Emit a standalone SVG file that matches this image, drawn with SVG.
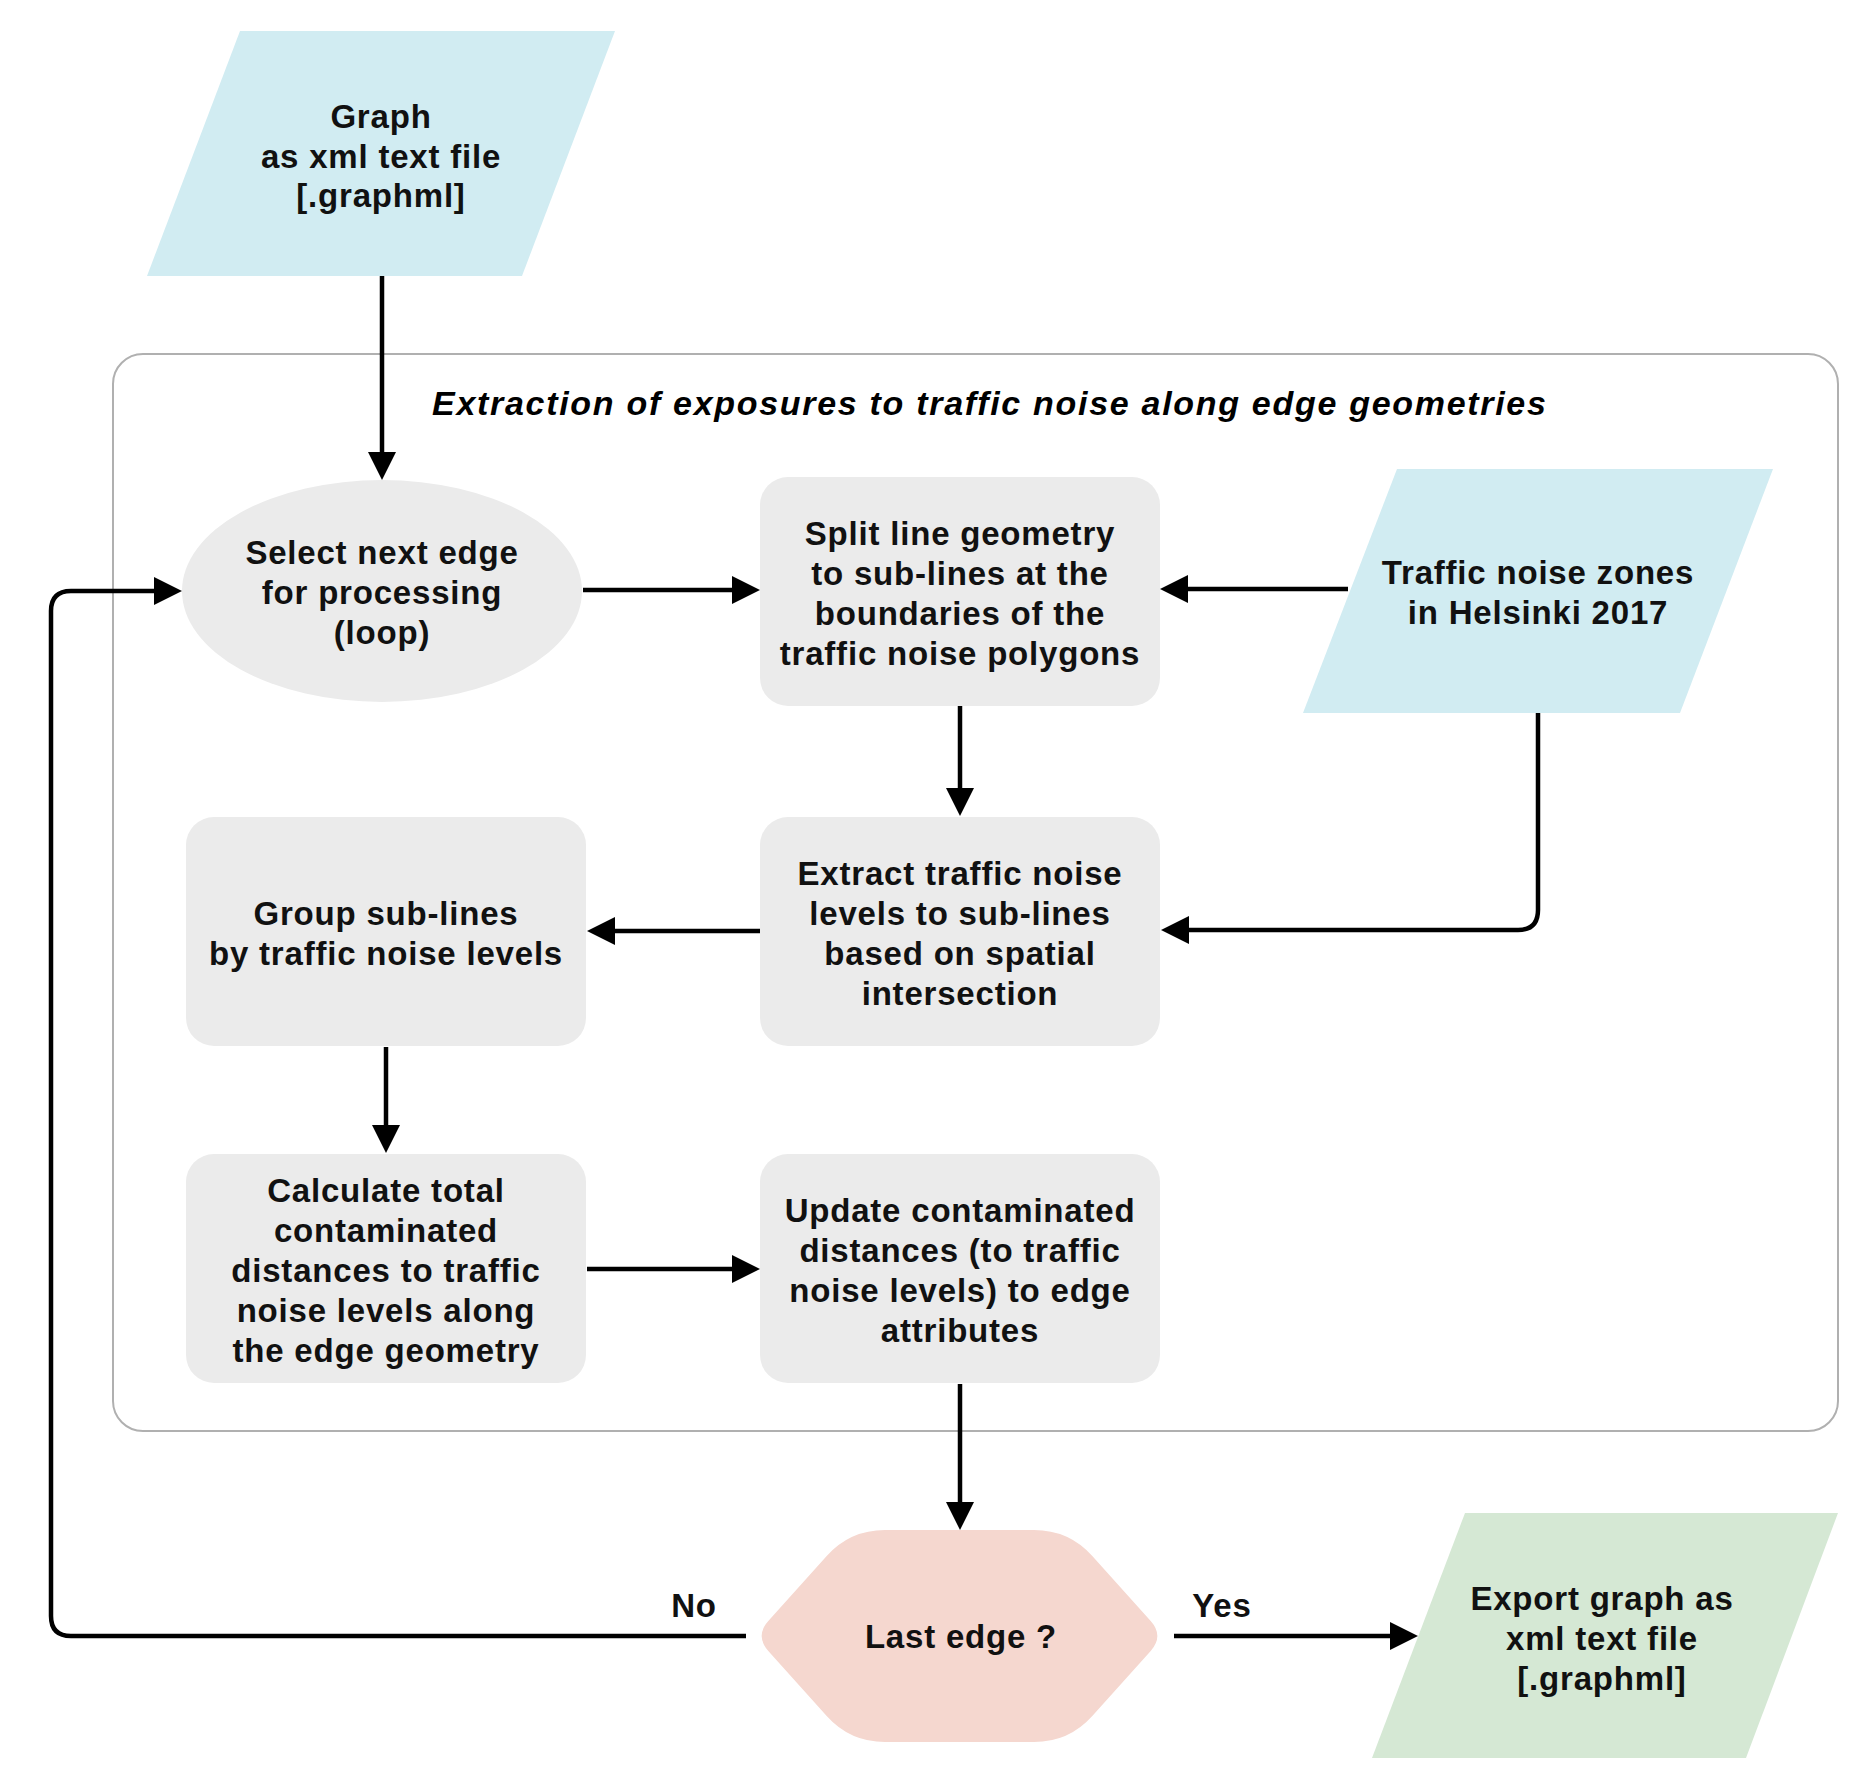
<svg xmlns="http://www.w3.org/2000/svg" width="1870" height="1790" viewBox="0 0 1870 1790">
<style>
.t{font-family:"Liberation Sans",Arial,Helvetica,sans-serif;font-weight:bold;font-size:33px;letter-spacing:0.8px;fill:#111;text-anchor:middle}
.title{font-family:"Liberation Sans",Arial,Helvetica,sans-serif;font-weight:bold;font-style:italic;font-size:34px;letter-spacing:1.7px;fill:#000}
.box{fill:#ebebeb}
.data{fill:#d1ecf2}
.out{fill:#d5e8d4}
.dec{fill:#f5d7cf}
.c{fill:none;stroke:#000;stroke-width:4.5;marker-end:url(#ah)}
</style>
<defs>
<marker id="ah" markerUnits="userSpaceOnUse" markerWidth="28" markerHeight="28" refX="2" refY="14" orient="auto">
<path d="M0,0 L28,14 L0,28 Z" fill="#000"/>
</marker>
</defs>
<rect id="container" x="113" y="354" width="1725" height="1077" rx="30" ry="30" fill="none" stroke="#b0b0b0" stroke-width="2"/>
<text class="title" x="432" y="415">Extraction of exposures to traffic noise along edge geometries</text>

<g id="graph-input">
<polygon class="data" points="240,31 615,31 522,276 147,276"/>
<text class="t" x="381" y="128">Graph</text>
<text class="t" x="381" y="168">as xml text file</text>
<text class="t" x="381" y="207">[.graphml]</text>
</g>
<g id="select-edge">
<ellipse class="box" cx="382" cy="591" rx="200" ry="111"/>
<text class="t" x="382" y="564">Select next edge</text>
<text class="t" x="382" y="604">for processing</text>
<text class="t" x="382" y="644">(loop)</text>
</g>
<g id="split-line">
<rect class="box" x="760" y="477" width="400" height="229" rx="28" ry="28"/>
<text class="t" x="960" y="545">Split line geometry</text>
<text class="t" x="960" y="585">to sub-lines at the</text>
<text class="t" x="960" y="625">boundaries of the</text>
<text class="t" x="960" y="665">traffic noise polygons</text>
</g>
<g id="noise-zones">
<polygon class="data" points="1397,469 1773,469 1680,713 1303,713"/>
<text class="t" x="1538" y="584">Traffic noise zones</text>
<text class="t" x="1538" y="624">in Helsinki 2017</text>
</g>
<g id="extract-levels">
<rect class="box" x="760" y="817" width="400" height="229" rx="28" ry="28"/>
<text class="t" x="960" y="885">Extract traffic noise</text>
<text class="t" x="960" y="925">levels to sub-lines</text>
<text class="t" x="960" y="965">based on spatial</text>
<text class="t" x="960" y="1005">intersection</text>
</g>
<g id="group-sublines">
<rect class="box" x="186" y="817" width="400" height="229" rx="28" ry="28"/>
<text class="t" x="386" y="925">Group sub-lines</text>
<text class="t" x="386" y="965">by traffic noise levels</text>
</g>
<g id="calculate">
<rect class="box" x="186" y="1154" width="400" height="229" rx="28" ry="28"/>
<text class="t" x="386" y="1202">Calculate total</text>
<text class="t" x="386" y="1242">contaminated</text>
<text class="t" x="386" y="1282">distances to traffic</text>
<text class="t" x="386" y="1322">noise levels along</text>
<text class="t" x="386" y="1362">the edge geometry</text>
</g>
<g id="update">
<rect class="box" x="760" y="1154" width="400" height="229" rx="28" ry="28"/>
<text class="t" x="960" y="1222">Update contaminated</text>
<text class="t" x="960" y="1262">distances (to traffic</text>
<text class="t" x="960" y="1302">noise levels) to edge</text>
<text class="t" x="960" y="1342">attributes</text>
</g>
<g id="last-edge">
<path class="dec" d="M885,1530 L1034,1530 Q1069,1530 1092.3,1556 L1150.7,1621.1 Q1164,1636 1150.7,1650.9 L1092.3,1716 Q1069,1742 1034,1742 L885,1742 Q850,1742 826.7,1716 L768.3,1650.9 Q755,1636 768.3,1621.1 L826.7,1556 Q850,1530 885,1530 Z"/>
<text class="t" x="961" y="1648">Last edge ?</text>
</g>
<g id="export">
<polygon class="out" points="1465,1513 1838,1513 1746,1758 1372,1758"/>
<text class="t" x="1602" y="1610">Export graph as</text>
<text class="t" x="1602" y="1650">xml text file</text>
<text class="t" x="1602" y="1690">[.graphml]</text>
</g>

<g id="connectors">
<path class="c" d="M382,276 V454"/>
<path class="c" d="M583,590 H734"/>
<path class="c" d="M1348,589 H1186"/>
<path class="c" d="M960,706 V790"/>
<path class="c" d="M1538,713 V910 Q1538,930 1518,930 H1187"/>
<path class="c" d="M760,931 H613"/>
<path class="c" d="M386,1047 V1127"/>
<path class="c" d="M587,1269 H734"/>
<path class="c" d="M960,1384 V1504"/>
<path class="c" d="M746,1636 H71 Q51,1636 51,1616 V611 Q51,591 71,591 H156"/>
<path class="c" d="M1174,1636 H1392"/>
<text class="t" x="694" y="1617">No</text>
<text class="t" x="1222" y="1617">Yes</text>
</g>
</svg>
